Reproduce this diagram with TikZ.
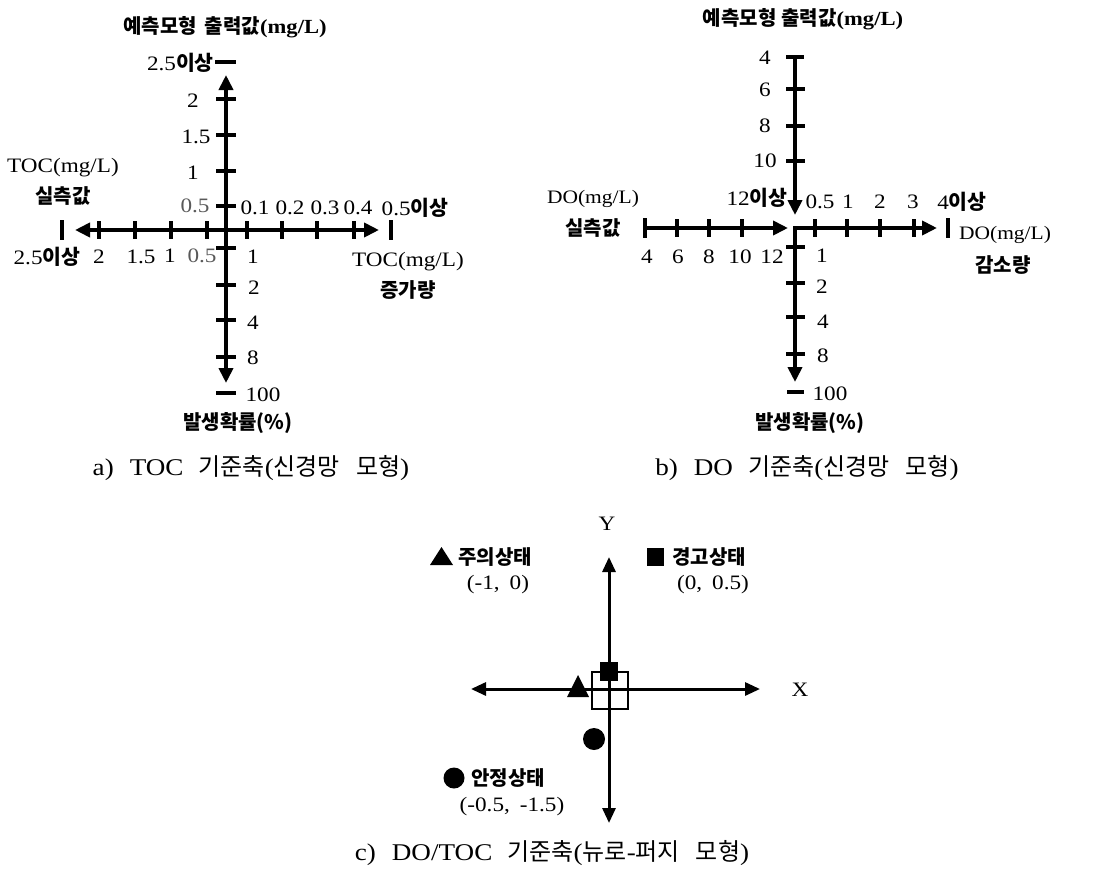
\documentclass[tikz,border=0pt]{standalone}
\usepackage{fontspec}
\setmainfont{Liberation Serif}[FakeStretch=1.13]
\newfontfamily\kr{Noto Sans CJK KR}
\usetikzlibrary{arrows.meta}
\newcommand{\korb}[1]{{\kr\bfseries #1}}
\newcommand{\korr}[1]{{\kr #1}}
\begin{document}
\begin{tikzpicture}[x=1pt,y=-1pt,
  ax/.style={line width=4pt},
  axc/.style={line width=3pt},
  tk/.style={line width=3.6pt},
  lb/.style={inner sep=0pt, font=\fontsize{20.5}{22}\selectfont},
  lbs/.style={inner sep=0pt, font=\fontsize{19}{21}\selectfont},
  lbg/.style={lb, text=black!65},
  kb/.style={inner sep=0pt, font=\fontsize{20}{22}\selectfont\kr\bfseries},
  captxt/.style={inner sep=0pt, font=\fontsize{24}{26}\selectfont},
]
\useasboundingbox (0,0) rectangle (1105,875);

% ================= Panel a =================
\coordinate (aC) at (226,230);
\coordinate (aL) at (75,230);
\coordinate (aR) at (379,230);
\coordinate (aT) at (226,75);
\coordinate (aB) at (226,383);
\draw[ax, {Triangle[length=15pt,width=14pt]}-{Triangle[length=15pt,width=14pt]}] (aL) -- (aR);
\draw[ax, {Triangle[length=15pt,width=14pt]}-{Triangle[length=15pt,width=14pt]}] (aT) -- (aB);
% horizontal ticks
\foreach \x in {99,135,171,207,247,282,317,354} \draw[tk] (\x,221) -- (\x,239);
\draw[tk] (62,220) -- (62,240);
\draw[tk] (391,220) -- (391,240);
% vertical ticks
\foreach \y in {99,135,171,206,248,285,320,357} \draw[tk] (216,\y) -- (236,\y);
\draw[tk] (215,62) -- (236,62);
\draw[tk] (216,393) -- (236,393);
% labels
\node[kb] (atitle) at (225,27) {예측모형\hspace{8pt}출력값{\rmfamily(mg/L)}};
\node[lb, anchor=east] (a25t) at (214,63) {2.5\korb{이상}};
\node[lb] (av2) at (193,101) {2};
\node[lb] (av15) at (196,137) {1.5};
\node[lb] (av1) at (193,173) {1};
\node[lbg] (av05) at (195,206) {0.5};
\node[lb] (atoc1) at (63,168) {TOC(mg/L)};
\node[kb] (asil) at (63,196) {실측값};
\node[lb] (ah25) at (47,257) {2.5\korb{이상}};
\node[lb] (ah2) at (99,257) {2};
\node[lb] (ah15) at (141,257) {1.5};
\node[lb] (ah1) at (170,256) {1};
\node[lbg] (ah05) at (202,256) {0.5};
\node[lb] (ar01) at (255,208) {0.1};
\node[lb] (ar02) at (290,208) {0.2};
\node[lb] (ar03) at (325,208) {0.3};
\node[lb] (ar04) at (358,208) {0.4};
\node[lb] (ar05) at (415,208) {0.5\korb{이상}};
\node[lb] (atoc2) at (408,262) {TOC(mg/L)};
\node[kb] (ajung) at (408,290) {증가량};
\node[lb] (ad1) at (253,257) {1};
\node[lb] (ad2) at (254,288) {2};
\node[lb] (ad4) at (253,323) {4};
\node[lb] (ad8) at (253,358) {8};
\node[lb] (ad100) at (263,395) {100};
\node[kb] (aprob) at (238,423) {발생확률(\%)};
\node[captxt] (acap) at (251,468) {a)\hspace{16pt}TOC\hspace{15pt}\korr{기준축}(\korr{신경망}\hspace{16pt}\korr{모형})};

% ================= Panel b =================
\coordinate (bTop) at (795,57);
\coordinate (bTip) at (795,215);
\coordinate (bLs) at (645,228);
\coordinate (bLe) at (788,228);
\coordinate (bC) at (795,228);
\coordinate (bR) at (937,228);
\coordinate (bB) at (795,382);
\draw[ax, -{Triangle[length=15pt,width=14pt]}] (bTop) -- (bTip);
\draw[ax, -{Triangle[length=15pt,width=14pt]}] (bLs) -- (bLe);
\draw[ax, {Triangle[length=15pt,width=14pt]}-{Triangle[length=15pt,width=14pt]}] (bB) -- (bC) -- (bR);
\foreach \y in {89,126,161,247,283,317,354} \draw[tk] (786,\y) -- (805,\y);
\draw[tk] (786,57) -- (804,57);
\draw[tk] (787,392) -- (804,392);
\foreach \x in {677,709,742,815,847,880,914} \draw[tk] (\x,219) -- (\x,237);
\draw[tk] (645,218) -- (645,238);
\draw[tk] (948,218) -- (948,238);
\node[kb] (btitle) at (803,19) {예측모형\hspace{5pt}출력값{\rmfamily(mg/L)}};
\node[lb] (bv4) at (765,58) {4};
\node[lb] (bv6) at (765,90) {6};
\node[lb] (bv8) at (765,126) {8};
\node[lb] (bv10) at (765,161) {10};
\node[lb] (bv12) at (757,198) {12\korb{이상}};
\node[lbs] (bdo1) at (593,199) {DO(mg/L)};
\node[kb] (bsil) at (593,228) {실측값};
\node[lb] (bh4) at (647,257) {4};
\node[lb] (bh6) at (678,257) {6};
\node[lb] (bh8) at (709,257) {8};
\node[lb] (bh10) at (740,257) {10};
\node[lb] (bh12) at (772,257) {12};
\node[lb] (br05) at (820,202) {0.5};
\node[lb] (br1) at (848,202) {1};
\node[lb] (br2) at (880,202) {2};
\node[lb] (br3) at (913,202) {3};
\node[lb] (br4) at (962,202) {4\korb{이상}};
\node[lbs] (bdo2) at (1005,235) {DO(mg/L)};
\node[kb] (bgam) at (1003,265) {감소량};
\node[lb] (bd1) at (822,256) {1};
\node[lb] (bd2) at (822,287) {2};
\node[lb] (bd4) at (823,322) {4};
\node[lb] (bd8) at (823,356) {8};
\node[lb] (bd100) at (830,394) {100};
\node[kb] (bprob) at (810,423) {발생확률(\%)};
\node[captxt] (bcap) at (807,468) {b)\hspace{16pt}DO\hspace{15pt}\korr{기준축}(\korr{신경망}\hspace{16pt}\korr{모형})};

% ================= Panel c =================
\coordinate (cL) at (471,689);
\coordinate (cR) at (760,689);
\coordinate (cT) at (609,557);
\coordinate (cB) at (609,823);
\draw[axc, {Triangle[length=15pt,width=13pt]}-{Triangle[length=15pt,width=13pt]}] (cL) -- (cR);
\draw[axc, {Triangle[length=15pt,width=13pt]}-{Triangle[length=15pt,width=13pt]}] (cT) -- (cB);
\node[lb] (cY) at (607,524) {Y};
\node[lb] (cX) at (800,690) {X};
\draw[line width=2.2pt] (592,672) rectangle (628,709);
\fill (600,662) rectangle (618,681);
\fill (567,697) -- (589,697) -- (578,675) -- cycle;
\fill (594,739) circle (11);
% legend
\fill (430,565) -- (453,565) -- (441.5,547) -- cycle;
\node[kb, anchor=west] (cwarn1) at (458,557) {주의상태};
\node[lb] (cwarn1c) at (498,585) {(-1,\hspace{10pt}0)};
\fill (647,548) rectangle (664,566);
\node[kb, anchor=west] (cwarn2) at (672,557) {경고상태};
\node[lb] (cwarn2c) at (713,585) {(0,\hspace{10pt}0.5)};
\fill (454,778) circle (10.5);
\node[kb, anchor=west] (cstab) at (471,778) {안정상태};
\node[lb] (cstabc) at (512,807) {(-0.5,\hspace{10pt}-1.5)};
\node[captxt] (ccap) at (552,853) {c)\hspace{16pt}DO/TOC\hspace{15pt}\korr{기준축}(\korr{뉴로}-\korr{퍼지}\hspace{16pt}\korr{모형})};
\end{tikzpicture}
\end{document}
